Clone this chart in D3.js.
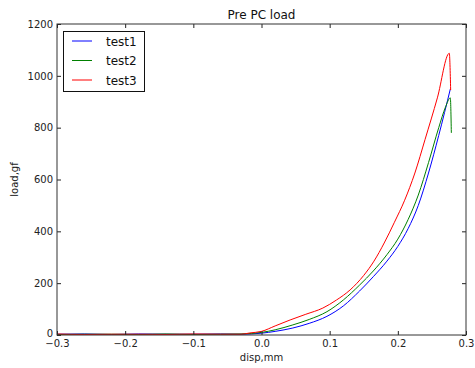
<!DOCTYPE html>
<html>
<head>
<meta charset="utf-8">
<script src="https://cdn.jsdelivr.net/npm/d3@7"></script>
<style>
  body { margin: 0; background: #fff; }
  text { font-family: "DejaVu Sans", sans-serif; }
</style>
</head>
<body>
<div id="container"></div>
<script>
// data
let names = ["test1", "test2", "test3"];
let colors = ["#0000ff", "#008000", "#ff0000"];

let disp1 = [-0.3, -0.26, -0.22, -0.18, -0.14, -0.1, -0.06, -0.03, 0.0, 0.02, 0.046, 0.07, 0.096, 0.12, 0.144, 0.164, 0.184, 0.2, 0.215, 0.23, 0.245, 0.26, 0.277];
let load1 = [3, 4, 2, 4, 3, 3, 4, 3, 7, 14, 27, 45, 72, 112, 170, 225, 285, 342, 410, 500, 625, 770, 949];

let disp2 = [-0.3, -0.26, -0.22, -0.18, -0.14, -0.1, -0.06, -0.03, 0.0, 0.02, 0.046, 0.07, 0.096, 0.12, 0.144, 0.164, 0.184, 0.2, 0.215, 0.23, 0.245, 0.26, 0.27, 0.277, 0.2785];
let load2 = [2, 3, 3, 2, 4, 2, 3, 4, 10, 20, 39, 60, 90, 135, 193, 247, 310, 370, 445, 540, 665, 800, 880, 915, 780];

let disp3 = [-0.3, -0.26, -0.22, -0.18, -0.14, -0.1, -0.06, -0.03, -0.017, 0.0, 0.02, 0.042, 0.065, 0.09, 0.11, 0.13, 0.15, 0.165, 0.18, 0.195, 0.21, 0.225, 0.24, 0.258, 0.2755, 0.2775];
let load3 = [4, 2, 3, 3, 2, 4, 3, 3, 8, 14, 35, 58, 80, 104, 135, 174, 230, 285, 355, 435, 520, 625, 755, 915, 1087, 945];

let xTicks = [-0.3, -0.2, -0.1, 0.0, 0.1, 0.2, 0.3];
let yTicks = [0, 200, 400, 600, 800, 1000, 1200];

let series = [
  {name: names[0], color: colors[0], x: disp1, y: load1},
  {name: names[1], color: colors[1], x: disp2, y: load2},
  {name: names[2], color: colors[2], x: disp3, y: load3}
];

let W = 475, H = 368;
let pl = 57, pt = 24, pr = 466, pb = 335;

let svg = d3.select("#container")
  .append("svg")
  .attr("width", W)
  .attr("height", H);

let x = d3.scaleLinear().domain([-0.3, 0.3]).range([pl, pr]);
let y = d3.scaleLinear().domain([0, 1200]).range([pb, pt]);

function fmtX(d) {
  return d3.format(".1f")(d).replace("-", "\u2212");
}

// curves
let line = d3.line()
  .x(d => x(d[0]))
  .y(d => y(d[1]))
  .curve(d3.curveMonotoneX);

let plot = svg.append("g");
plot.append("clipPath").attr("id", "clip")
  .append("rect").attr("x", pl).attr("y", pt)
  .attr("width", pr - pl).attr("height", pb - pt);

plot.selectAll(".curve").data(series).enter()
  .append("path")
  .attr("class", "curve")
  .attr("clip-path", "url(#clip)")
  .attr("d", s => line(s.x.map((v, i) => [v, s.y[i]])))
  .attr("fill", "none")
  .attr("stroke", s => s.color)
  .attr("stroke-width", 1);

// axes, ticks pointing inwards
let xAxis = svg.append("g")
  .attr("transform", "translate(0," + pb + ")")
  .call(d3.axisBottom(x).tickValues(xTicks).tickFormat(fmtX).tickSizeInner(-4).tickSizeOuter(0).tickPadding(5));
let xTop = svg.append("g")
  .attr("transform", "translate(0," + pt + ")")
  .call(d3.axisTop(x).tickValues(xTicks).tickFormat("").tickSizeInner(-4).tickSizeOuter(0));
let yAxis = svg.append("g")
  .attr("transform", "translate(" + pl + ",0)")
  .call(d3.axisLeft(y).tickValues(yTicks).tickFormat(d3.format("d")).tickSizeInner(-4).tickSizeOuter(0).tickPadding(4));
let yRight = svg.append("g")
  .attr("transform", "translate(" + pr + ",0)")
  .call(d3.axisRight(y).tickValues(yTicks).tickFormat("").tickSizeInner(-4).tickSizeOuter(0));

[xAxis, xTop, yAxis, yRight].forEach(a => {
  a.select(".domain").remove();
  a.selectAll("line").attr("stroke", "#222");
  a.selectAll("text")
    .attr("font-family", "DejaVu Sans")
    .attr("font-size", 10)
    .attr("fill", "#222");
});
// the 0 label sits a little higher so it clears the x labels
yAxis.selectAll(".tick text").filter(d => d === 0).attr("dy", "0.1em");

svg.append("rect")
  .attr("x", pl)
  .attr("y", pt)
  .attr("width", pr - pl)
  .attr("height", pb - pt)
  .attr("fill", "none")
  .attr("stroke", "#333")
  .attr("stroke-width", 1);

// titles
svg.append("text")
  .text("Pre PC load")
  .attr("x", (pl + pr) / 2)
  .attr("y", 19)
  .attr("text-anchor", "middle")
  .attr("font-size", 12)
  .attr("fill", "#111");

svg.append("text")
  .text("disp,mm")
  .attr("x", (pl + pr) / 2)
  .attr("y", 361)
  .attr("text-anchor", "middle")
  .attr("font-size", 10)
  .attr("fill", "#222");

svg.append("text")
  .text("load,gf")
  .attr("transform", "translate(18," + (pt + pb) / 2 + ") rotate(-90)")
  .attr("text-anchor", "middle")
  .attr("font-size", 10)
  .attr("fill", "#222");

// legend
let legend = svg.append("g");
legend.append("rect")
  .attr("x", 63.5)
  .attr("y", 31.5)
  .attr("width", 81)
  .attr("height", 60)
  .attr("fill", "#fff")
  .attr("stroke", "#111")
  .attr("stroke-width", 1);

let item = legend.selectAll(".item").data(series).enter()
  .append("g")
  .attr("class", "item")
  .attr("transform", (d, i) => "translate(0," + (41 + i * 19.5) + ")");
item.append("line")
  .attr("x1", 72).attr("x2", 92)
  .attr("y1", 0).attr("y2", 0)
  .attr("stroke", d => d.color)
  .attr("stroke-width", 1);
item.append("text")
  .text(d => d.name)
  .attr("x", 106)
  .attr("y", 4.5)
  .attr("font-size", 12)
  .attr("fill", "#111");
</script>
</body>
</html>
